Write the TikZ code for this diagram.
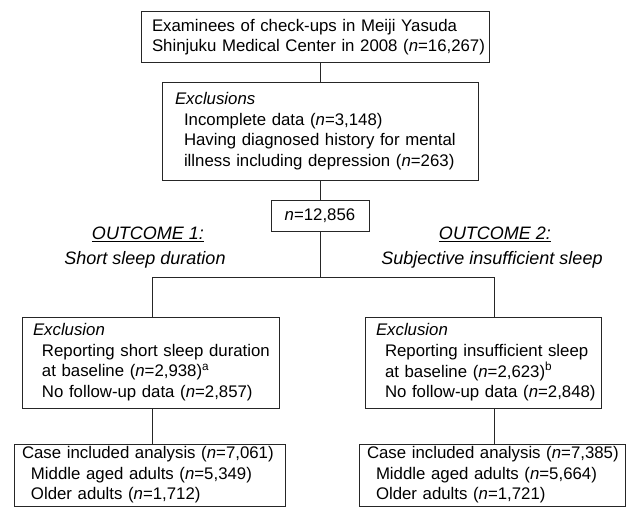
\documentclass[tikz,border=0pt]{standalone}
\usepackage{fontspec}
\setmainfont{Liberation Sans}
\newcommand\myfs{\fontsize{16.8}{20.6}\selectfont}
\newcommand\ind{\hspace*{9pt}}
\begin{document}
\begin{tikzpicture}[x=1pt,y=-1pt,
  line width=1pt,
  box/.style={draw=black!85, align=left, inner ysep=0pt, font=\myfs},
  nb/.style={draw=black!85, inner sep=0pt, font=\myfs, minimum width=98pt, minimum height=31pt},
  ttl/.style={font=\fontsize{18}{22}\selectfont\itshape, inner sep=0pt},
  conn/.style={draw=black!85}]
\useasboundingbox (0,0) rectangle (630,527);
% top
\node[box, inner xsep=11pt, text width=326pt, minimum height=51pt] (top) at (315,37.5)
 {\begin{tabular}{@{}l@{}}Examinees of check-ups in Meiji Yasuda\\Shinjuku Medical Center in 2008 (\textit{n}=16,267)\end{tabular}};
\node[box, inner xsep=13pt, text width=290pt, minimum height=97pt] (excl) at (320,131.5)
 {\begin{tabular}{@{}l@{}}\textit{Exclusions}\\ \ind Incomplete data (\textit{n}=3,148)\\ \ind Having diagnosed history for mental\\ \ind illness including depression (\textit{n}=263)\end{tabular}};
\node[nb] (nbox) at (320,215.5) {\textit{n}=12,856};
% titles
\node[ttl] (t1) at (148,234) {\underline{OUTCOME 1:}};
\node[ttl] (s1) at (145,260) {Short sleep duration};
\node[ttl] (t2) at (495,234) {\underline{OUTCOME 2:}};
\node[ttl] (s2) at (492,260) {Subjective insufficient sleep};
% left branch
\node[box, inner xsep=11pt, text width=235pt, minimum height=91pt] (lex) at (150.5,362.5)
 {\begin{tabular}{@{}l@{}}\textit{Exclusion}\\ \ind Reporting short sleep duration\\ \ind at baseline (\textit{n}=2,938)\textsuperscript{a}\\ \ind No follow-up data (\textit{n}=2,857)\end{tabular}};
\node[box, inner xsep=8pt, text width=255pt, minimum height=62pt] (lbot) at (149.5,475)
 {\begin{tabular}{@{}l@{}}Case included analysis (\textit{n}=7,061)\\ \ind Middle aged adults (\textit{n}=5,349)\\ \ind Older adults (\textit{n}=1,712)\end{tabular}};
% right branch
\node[box, inner xsep=11pt, text width=214pt, minimum height=91pt] (rex) at (483,362.5)
 {\begin{tabular}{@{}l@{}}\textit{Exclusion}\\ \ind Reporting insufficient sleep\\ \ind at baseline (\textit{n}=2,623)\textsuperscript{b}\\ \ind No follow-up data (\textit{n}=2,848)\end{tabular}};
\node[box, inner xsep=8pt, text width=250pt, minimum height=62pt] (rbot) at (492,475)
 {\begin{tabular}{@{}l@{}}Case included analysis (\textit{n}=7,385)\\ \ind Middle aged adults (\textit{n}=5,664)\\ \ind Older adults (\textit{n}=1,721)\end{tabular}};
% connectors
\coordinate (split) at (320,277);
\coordinate (cl) at (152,277);
\coordinate (cr) at (494,277);
\draw[conn] (top.south -| excl.north) -- (excl.north);
\draw[conn] (excl.south) -- (nbox.north);
\draw[conn] (nbox.south) -- (split);
\draw[conn] (cl) -- (cr);
\draw[conn] (cl) -- (cl |- lex.north);
\draw[conn] (cr) -- (cr |- rex.north);
\draw[conn] (lex.south -| cl) -- (lbot.north -| cl);
\draw[conn] (rex.south -| cr) -- (rbot.north -| cr);
\end{tikzpicture}
\end{document}
